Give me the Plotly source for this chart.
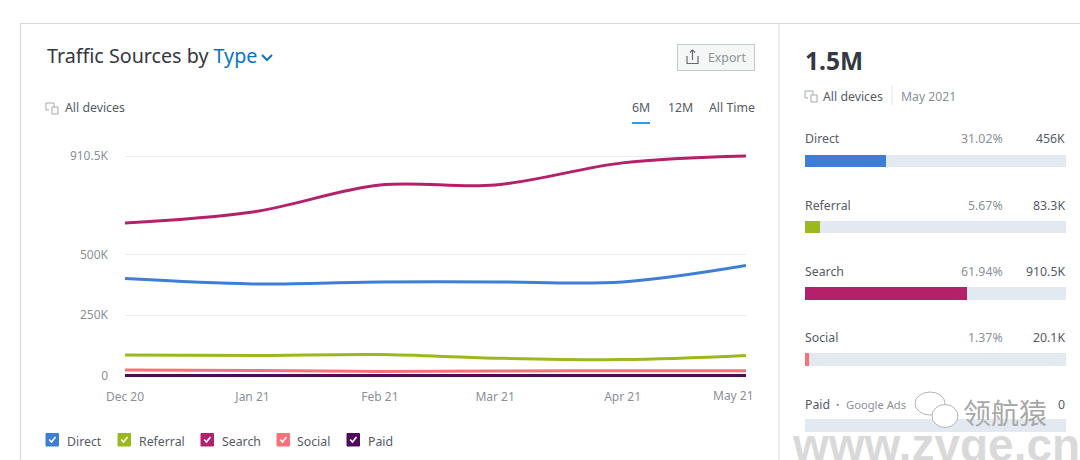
import plotly.graph_objects as go

# ---------- data ----------
months = ["2020-12-01", "2021-01-01", "2021-02-01", "2021-03-01", "2021-04-01", "2021-05-01"]
month_labels = ["Dec 20", "Jan 21", "Feb 21", "Mar 21", "Apr 21", "May 21"]
direct = [402000, 380000, 388000, 388000, 388000, 456000]
referral = [85000, 83000, 87000, 72000, 66000, 83300]
search = [633000, 678000, 790000, 790000, 882000, 910500]
social = [23000, 21000, 17000, 19000, 20000, 20100]
paid = [0, 0, 0, 0, 0, 0]
y_ticks = [0, 250000, 500000, 910500]
y_labels = ["0", "250K", "500K", "910.5K"]

series_names = ["Direct", "Referral", "Search", "Social", "Paid"]
series_colors = ["#3f7ed6", "#9bb81e", "#b5206a", "#fa7079", "#4f0a5c"]
share_pct = [31.02, 5.67, 61.94, 1.37, 0]
share_pct_labels = ["31.02%", "5.67%", "61.94%", "1.37%", ""]
share_value_labels = ["456K", "83.3K", "910.5K", "20.1K", "0"]
tabs = ["6M", "12M", "All Time"]

FONT = "Noto Sans"
W, H = 1080, 460
DARK, MID, GREY = "#333842", "#555a66", "#8a8f99"


def px(x):
    return x / W


def py(y):
    return 1 - y / H


annotations, shapes = [], []


def text(x, y, s, size=12.5, color=MID, anchor="left", family=FONT):
    dx = -1 if anchor == "left" else 0
    annotations.append(dict(x=px(x + dx), y=py(y), xref="paper", yref="paper", text=s, showarrow=False,
                            xanchor=anchor, yanchor="middle", borderpad=0,
                            font=dict(family=family, size=size, color=color)))


def rect(x0, y0, x1, y1, fill=None, line=None, width=1):
    shapes.append(dict(type="rect", xref="paper", yref="paper", x0=px(x0), x1=px(x1), y0=py(y0), y1=py(y1),
                       fillcolor=fill or "rgba(0,0,0,0)", line=dict(color=line or "rgba(0,0,0,0)", width=width if line else 0)))


def poly(points, color, width=1.5, close=False, fill=None):
    d = "M" + " L".join(f"{px(a):.5f},{py(b):.5f}" for a, b in points) + (" Z" if close else "")
    shapes.append(dict(type="path", xref="paper", yref="paper", path=d, fillcolor=fill or "rgba(0,0,0,0)",
                       line=dict(color=color, width=width)))


def devices_icon(x, y):
    c = "#a3a8af"
    poly([(x + 8, y + 2), (x + 8, y - 5), (x, y - 5), (x, y + 2), (x + 3, y + 2)], c, 1)
    rect(x + 6, y - 1, x + 12, y + 6, fill="#ffffff", line=c, width=1)


# ---------- panel ----------
poly([(20.5, 460), (20.5, 23.5), (1080, 23.5)], "#d9d9d9", 1.2)
poly([(779, 23.5), (779, 460)], "#e6e6e6", 1.5)

# ---------- header left ----------
text(47, 56, f'Traffic Sources by <span style="color:#0a74c2">Type</span>', size=19.7, color=DARK)
poly([(262, 55), (267, 60), (272, 55)], "#0a74c2", 2)
devices_icon(46, 108)
text(65, 108, "All devices", size=12.3)

# export button
rect(677.5, 44.5, 754.5, 70.5, fill="#f5f7f7", line="#c3c9cb", width=1)
poly([(687, 56), (687, 63.5), (698, 63.5), (698, 56)], "#666b73", 1.2)
poly([(692.5, 60), (692.5, 50)], "#666b73", 1.2)
poly([(690, 52.5), (692.5, 50), (695, 52.5)], "#666b73", 1.2)
text(708, 57, "Export", size=12.3, color=GREY)

# tabs
for label, cx in zip(tabs, [641, 680, 732]):
    text(cx, 108, label, size=12.3, color=MID, anchor="center")
rect(632, 122, 650, 124, fill="#2e9be6")

# last x label sits inside the plot edge
text(754.5, 395, month_labels[-1], size=12, color=GREY, anchor="right")

# ---------- legend ----------
box_x = [46, 118, 201, 277, 347]
label_x = [67, 139, 222, 297, 368]
for name, col, bx, lx in zip(series_names, series_colors, box_x, label_x):
    rect(bx, 433.5, bx + 12.5, 446, fill=col, line=col, width=1)
    poly([(bx + 3.2, 439.5), (bx + 5.5, 442), (bx + 9.5, 437)], "#ffffff", 1.6)
    text(lx, 441, name, size=12.3)

# ---------- right header ----------
text(805, 60, "<b>1.5M</b>", size=24.5, color=DARK)
devices_icon(805, 96)
text(823, 96, "All devices", size=12.3)
poly([(892, 86), (892, 105)], "#dfe3e6", 1)
text(901, 96, "May 2021", size=12.2, color=GREY)

# ---------- right rows ----------
row_y = [139, 205, 271.5, 337.5, 404]
for name, p, v, y in zip(series_names, share_pct_labels, share_value_labels, row_y):
    text(805, y, name, size=12.3, color=MID)
    if p:
        text(1003.5, y, p, size=12.3, color=GREY, anchor="right")
    text(1066, y, v, size=12.3, color=MID, anchor="right")
text(836, 404, "•", size=9, color=GREY)
text(846, 404, "Google Ads", size=11.2, color=GREY)

# ---------- figure ----------
fig = go.Figure()
for name, vals, col in zip(series_names, [direct, referral, search, social, paid], series_colors):
    fig.add_trace(go.Scatter(x=months, y=vals, name=name, mode="lines",
                             line=dict(color=col, width=3, shape="spline", smoothing=1.0),
                             xaxis="x", yaxis="y", showlegend=False, hoverinfo="x+y+name"))

fig.add_trace(go.Bar(y=series_names, x=[100] * 5, orientation="h", marker=dict(color="#e3e9f0", line=dict(width=0)),
                     width=0.19, xaxis="x2", yaxis="y2", showlegend=False, hoverinfo="skip"))
fig.add_trace(go.Bar(y=series_names, x=share_pct, orientation="h", marker=dict(color=series_colors, line=dict(width=0)),
                     width=0.19, xaxis="x2", yaxis="y2", showlegend=False))

# watermark
text(792, 445, "<b>www.zvge.cn</b>", size=46, color="rgba(170,170,170,0.45)", family="Liberation Sans")
text(1005, 412, "领航猿", size=28, color="#a8a8a8", anchor="center", family="Noto Sans CJK SC")
for cx, cy, rx, ry in [(930, 403.5, 15, 11.5), (945, 416, 13, 11.5)]:
    shapes.append(dict(type="circle", xref="paper", yref="paper", x0=px(cx - rx), x1=px(cx + rx), y0=py(cy - ry),
                       y1=py(cy + ry), fillcolor="#ffffff", line=dict(color="#b5b5b5", width=1)))

fig.update_layout(
    width=W, height=H, margin=dict(l=0, r=0, t=0, b=0), autosize=False,
    paper_bgcolor="#ffffff", plot_bgcolor="rgba(0,0,0,0)", barmode="overlay", bargap=0,
    font=dict(family=FONT, size=12, color=GREY),
    annotations=annotations, shapes=shapes,
    xaxis=dict(domain=[px(125), px(746)], type="date", range=[months[0], months[-1]],
               tickvals=months[:-1], ticktext=month_labels[:-1], showgrid=False, zeroline=False, showline=False,
               ticks="", tickfont=dict(size=12, color=GREY), anchor="y", automargin=False, ticklabelstandoff=4),
    yaxis=dict(domain=[py(384), py(146)], range=[-35300, 952000], tickvals=y_ticks, ticktext=y_labels,
               showgrid=True, gridcolor="#e8edf0", gridwidth=1, zeroline=False, showline=False, ticks="",
               tickfont=dict(size=12, color=GREY), anchor="x", automargin=False, ticklabelstandoff=16),
    xaxis2=dict(domain=[px(805), px(1066)], range=[0, 100], visible=False, anchor="y2"),
    yaxis2=dict(domain=[py(458), py(127.5)], type="category", categoryorder="array", categoryarray=series_names,
                autorange="reversed", visible=False, anchor="x2"),
)

fig.write_html("out.html", config=dict(displayModeBar=False),
               post_script="document.body.style.margin='0';")
